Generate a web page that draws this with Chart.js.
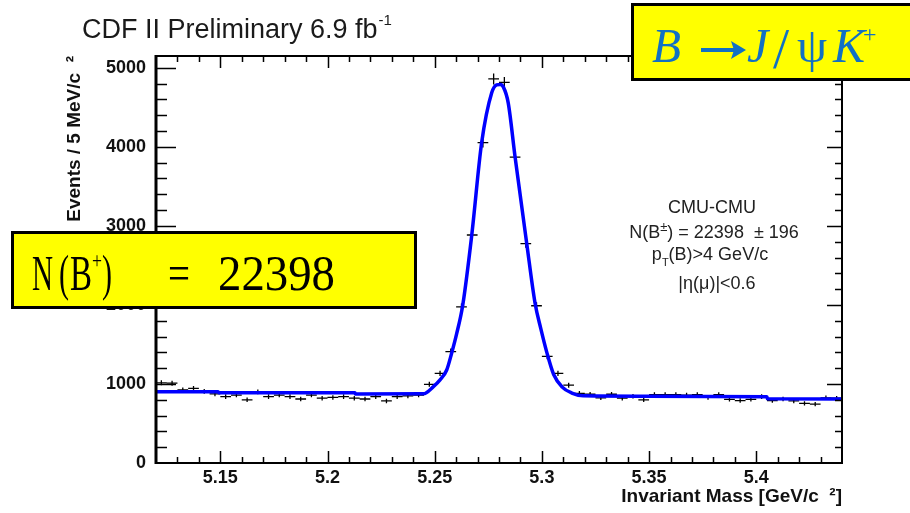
<!DOCTYPE html>
<html>
<head>
<meta charset="utf-8">
<script src="https://cdn.jsdelivr.net/npm/chart.js@4.4.1/dist/chart.umd.min.js"></script>
<style>
  html, body { margin: 0; padding: 0; background: #fff; }
  #wrap { width: 910px; height: 513px; }
</style>
</head>
<body>
<div id="wrap"><canvas id="massChart" width="910" height="513"></canvas></div>
<script>
// J/psi K+ invariant mass, 5 MeV/c^2 bins (bin centres in GeV/c^2)
const binCenters = [
  5.1225, 5.1275, 5.1325, 5.1375, 5.1425, 5.1475, 5.1525, 5.1575, 5.1625, 5.1675,
  5.1725, 5.1775, 5.1825, 5.1875, 5.1925, 5.1975, 5.2025, 5.2075, 5.2125, 5.2175,
  5.2225, 5.2275, 5.2325, 5.2375, 5.2425, 5.2475, 5.2525, 5.2575, 5.2625, 5.2675,
  5.2725, 5.2775, 5.2825, 5.2875, 5.2925, 5.2975, 5.3025, 5.3075, 5.3125, 5.3175,
  5.3225, 5.3275, 5.3325, 5.3375, 5.3425, 5.3475, 5.3525, 5.3575, 5.3625, 5.3675,
  5.3725, 5.3775, 5.3825, 5.3875, 5.3925, 5.3975, 5.4025, 5.4075, 5.4125, 5.4175,
  5.4225, 5.4275, 5.4325, 5.4375
];
const events = [
  1015, 1010, 925, 945, 905, 875, 840, 860, 800, 900,
  840, 860, 840, 810, 860, 820, 830, 840, 820, 810,
  840, 785, 840, 850, 860, 995, 1135, 1410, 1975, 2885,
  4055, 4860, 4815, 3870, 2775, 1990, 1350, 1135, 985, 880,
  870, 825, 870, 820, 845, 800, 865, 865, 865, 860,
  865, 830, 865, 805, 790, 805, 840, 790, 810, 785,
  755, 745, 825, 820
];
const binHalfWidth = 0.0025;

// fitted signal + background curve
const fitMass = [
  5.12, 5.149, 5.1492, 5.2128, 5.213, 5.2447, 5.2494, 5.2525, 5.2556, 5.2579,
  5.2602, 5.2631, 5.2673, 5.2719, 5.2766, 5.2789, 5.2805, 5.282, 5.2843, 5.2875,
  5.2929, 5.2968, 5.2995, 5.3023, 5.3055, 5.3095, 5.314, 5.3193, 5.35, 5.405,
  5.4052, 5.44
];
const fitValue = [
  903, 903, 890, 890, 873, 875, 966, 1051, 1177, 1389,
  1630, 2000, 2886, 4051, 4684, 4785, 4790, 4759, 4557, 3873,
  2785, 2025, 1700, 1400, 1120, 960, 885, 850, 845, 838,
  812, 810
];

const xTickValues = [5.15, 5.2, 5.25, 5.3, 5.35, 5.4];
const xTickLabels = ['5.15', '5.2', '5.25', '5.3', '5.35', '5.4'];
const yTickValues = [0, 1000, 2000, 3000, 4000, 5000];
const yTickLabels = ['0', '1000', '2000', '3000', '4000', '5000'];

const SANS = '"Liberation Sans", Arial, Helvetica, sans-serif';
const SERIF = '"Liberation Serif", "Times New Roman", serif';

// crosses: bin width horizontally, sqrt(N) vertically
const errorBars = {
  id: 'errorBars',
  beforeDatasetsDraw(chart) {
    const {ctx, scales: {x, y}} = chart;
    ctx.save();
    ctx.strokeStyle = '#000';
    ctx.lineWidth = 1.3;
    ctx.beginPath();
    binCenters.forEach((m, i) => {
      const n = events[i];
      const err = Math.sqrt(n);
      const px = x.getPixelForValue(m);
      const py = y.getPixelForValue(n);
      ctx.moveTo(x.getPixelForValue(m - binHalfWidth), py);
      ctx.lineTo(x.getPixelForValue(m + binHalfWidth), py);
      ctx.moveTo(px, y.getPixelForValue(n - err));
      ctx.lineTo(px, y.getPixelForValue(n + err));
    });
    ctx.stroke();
    ctx.restore();
  }
};

// ROOT style frame with inward ticks on all four sides
const frame = {
  id: 'frame',
  afterDatasetsDraw(chart) {
    const {ctx, chartArea: {left, right, top, bottom}, scales: {x, y}} = chart;
    ctx.save();
    ctx.strokeStyle = '#000';
    ctx.lineWidth = 2;
    ctx.strokeRect(left, top, right - left, bottom - top);
    ctx.lineWidth = 3;
    ctx.beginPath();
    ctx.moveTo(left, top - 1);
    ctx.lineTo(left, bottom + 1);
    ctx.stroke();

    ctx.lineWidth = 1.5;
    ctx.beginPath();
    for (let k = 513; k < 544; k++) {
      const px = Math.round(x.getPixelForValue(k / 100)) + 0.5;
      const major = k % 5 === 0;
      ctx.moveTo(px, bottom);
      ctx.lineTo(px, bottom - (major ? 12 : 6));
      ctx.moveTo(px, top);
      ctx.lineTo(px, top + (major ? 12 : 6));
    }
    for (let k = 1; k <= 25; k++) {
      const py = Math.round(y.getPixelForValue(k * 200)) + 0.5;
      const major = k % 5 === 0;
      ctx.moveTo(left, py);
      ctx.lineTo(left + (major ? 20 : 11), py);
      ctx.moveTo(right, py);
      ctx.lineTo(right - (major ? 15 : 7), py);
    }
    ctx.stroke();
    ctx.restore();
  }
};

// draws a list of text runs ({t, size, dy}) centred on cx
function drawRuns(ctx, runs, cx, baseline) {
  let total = 0;
  runs.forEach(r => {
    ctx.font = r.size + 'px ' + SANS;
    r.w = ctx.measureText(r.t).width;
    total += r.w;
  });
  let xPos = cx - total / 2;
  runs.forEach(r => {
    ctx.font = r.size + 'px ' + SANS;
    ctx.fillText(r.t, xPos, baseline + (r.dy || 0));
    xPos += r.w;
  });
}

const labels = {
  id: 'labels',
  afterDraw(chart) {
    const ctx = chart.ctx;
    ctx.save();
    ctx.textAlign = 'left';
    ctx.textBaseline = 'alphabetic';

    // header
    ctx.fillStyle = '#1a1a1a';
    ctx.font = '27px ' + SANS;
    ctx.fillText('CDF II Preliminary 6.9 fb', 82, 38);
    const hw = ctx.measureText('CDF II Preliminary 6.9 fb').width;
    ctx.font = '15px ' + SANS;
    ctx.fillText('-1', 82 + hw + 1, 25);

    // selection summary
    ctx.fillStyle = '#222';
    drawRuns(ctx, [{t: 'CMU-CMU', size: 18}], 712, 213);
    drawRuns(ctx, [
      {t: 'N(B', size: 18}, {t: '±', size: 13, dy: -7}, {t: ') = 22398  ± 196', size: 18}
    ], 714, 238);
    drawRuns(ctx, [
      {t: 'p', size: 18}, {t: 'T', size: 11, dy: 6}, {t: '(B)>4 GeV/c', size: 18}
    ], 710, 260);
    drawRuns(ctx, [{t: '|η(μ)|<0.6', size: 18}], 717, 289);

    // decay channel box
    const blue = '#1170c4';
    ctx.fillStyle = '#ffff00';
    ctx.fillRect(632, 4, 290, 76);
    ctx.strokeStyle = '#000';
    ctx.lineWidth = 3;
    ctx.strokeRect(632.5, 4.5, 290, 75);
    ctx.fillStyle = blue;
    ctx.font = 'italic 48px ' + SERIF;
    ctx.fillText('B', 652, 62, 29);
    // arrow
    ctx.strokeStyle = blue;
    ctx.lineWidth = 4;
    ctx.beginPath();
    ctx.moveTo(701, 50);
    ctx.lineTo(736, 50);
    ctx.stroke();
    ctx.beginPath();
    ctx.moveTo(746, 50);
    ctx.lineTo(731, 41);
    ctx.lineTo(734, 50);
    ctx.lineTo(731, 59);
    ctx.closePath();
    ctx.fill();
    ctx.font = 'italic 48px ' + SERIF;
    ctx.fillText('J', 747, 62);
    ctx.font = '58px ' + SERIF;
    ctx.fillText('/', 773, 68, 20);
    ctx.font = '48px ' + SERIF;
    ctx.fillText('ψ', 797, 62, 33);
    ctx.font = 'italic 48px ' + SERIF;
    ctx.fillText('K', 833, 62, 34);
    ctx.font = '24px ' + SERIF;
    ctx.fillText('+', 863, 42, 14);

    // yield box
    ctx.strokeStyle = '#000';
    ctx.lineWidth = 3;
    ctx.fillStyle = '#ffff00';
    ctx.fillRect(12, 232, 404, 76);
    ctx.strokeRect(12.5, 232.5, 403, 75);
    ctx.fillStyle = '#000';
    ctx.font = '50px ' + SERIF;
    ctx.fillText('N', 32, 290, 21);
    ctx.fillText('(', 59, 290, 10);
    ctx.fillText('B', 70, 290, 22);
    ctx.fillText(')', 102, 290, 10);
    ctx.fillText('=', 168, 290, 22);
    ctx.fillText('22398', 218, 290, 117);
    ctx.font = '24px ' + SERIF;
    ctx.fillText('+', 92, 268, 10);
    ctx.restore();
  }
};

const tickFont = {family: SANS, size: 18, weight: 'bold'};
const titleFont = {family: SANS, size: 19, weight: 'bold'};

new Chart(document.getElementById('massChart').getContext('2d'), {
  type: 'scatter',
  data: {
    datasets: [{
      label: 'Fit',
      type: 'line',
      data: fitMass.map((m, i) => ({x: m, y: fitValue[i]})),
      borderColor: '#0000ff',
      borderWidth: 3.5,
      pointRadius: 0,
      cubicInterpolationMode: 'monotone',
      fill: false
    }, {
      label: 'Events',
      data: binCenters.map((m, i) => ({x: m, y: events[i]})),
      pointRadius: 0,
      showLine: false
    }]
  },
  options: {
    responsive: false,
    animation: false,
    events: [],
    layout: {padding: {left: 0, right: 68, top: 56, bottom: 0}},
    plugins: {
      legend: {display: false},
      tooltip: {enabled: false}
    },
    scales: {
      x: {
        type: 'linear',
        min: 5.12,
        max: 5.44,
        afterBuildTicks: s => { s.ticks = xTickValues.map(v => ({value: v})); },
        afterFit: s => { s.height = 50; },
        grid: {display: false, drawTicks: false},
        border: {display: false},
        ticks: {
          padding: 4, color: '#111', font: tickFont, maxRotation: 0, autoSkip: false,
          callback: (v, i) => xTickLabels[i]
        },
        title: {
          display: true, text: 'Invariant Mass [GeV/c  ²]', align: 'end',
          color: '#111', font: titleFont, padding: {top: 0, bottom: 5}
        }
      },
      y: {
        type: 'linear',
        min: 0,
        max: 5150,
        afterBuildTicks: s => { s.ticks = yTickValues.map(v => ({value: v})); },
        afterFit: s => { s.width = 156; },
        grid: {display: false, drawTicks: false},
        border: {display: false},
        ticks: {
          padding: 10, color: '#111', font: tickFont,
          callback: (v, i) => yTickLabels[i]
        },
        title: {
          display: true, text: 'Events / 5 MeV/c  ²', align: 'end',
          color: '#111', font: titleFont, padding: {top: 63, bottom: 0}
        }
      }
    }
  },
  plugins: [errorBars, frame, labels]
});
</script>
</body>
</html>
